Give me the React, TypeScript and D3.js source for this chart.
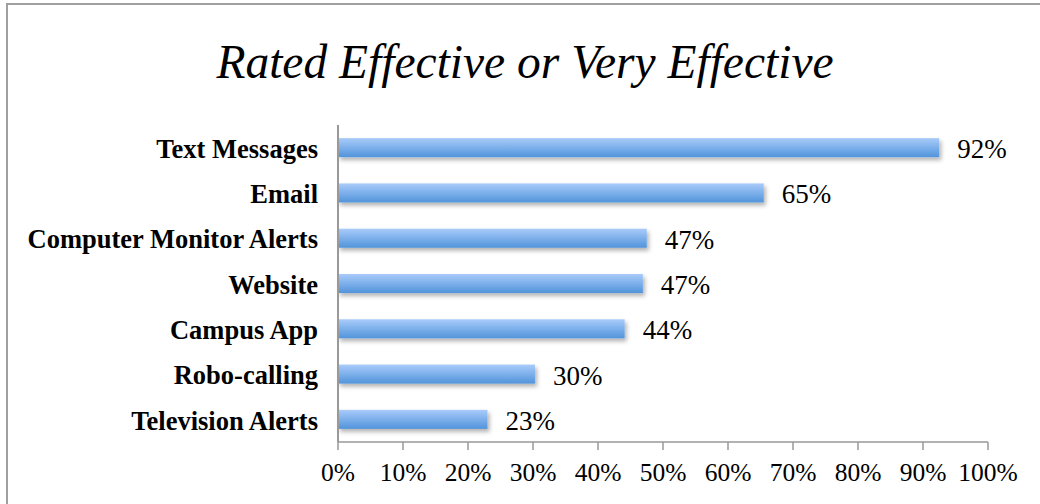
import React from "react";
import * as d3 from "d3";

const categories = [
  "Text Messages",
  "Email",
  "Computer Monitor Alerts",
  "Website",
  "Campus App",
  "Robo-calling",
  "Television Alerts",
];
const values = [92.5, 65.5, 47.5, 46.9, 44.1, 30.3, 23.0];
const valueLabels = ["92%", "65%", "47%", "47%", "44%", "30%", "23%"];
const xTicks = [0, 10, 20, 30, 40, 50, 60, 70, 80, 90, 100];
const title = "Rated Effective or Very Effective";

export default function App() {
  const W = 1040;
  const H = 504;
  const x = d3.scaleLinear().domain([0, 100]).range([338, 988]);
  const y = d3.scaleBand<string>().domain(categories).range([125, 442]).paddingInner(0.58).paddingOuter(0.29);
  const serif = "Liberation Serif";
  const axisY = 442;
  return (
    <svg width={W} height={H} style={{ position: "absolute", left: 0, top: 0, fontFamily: serif }}>
      <defs>
        <linearGradient id="barGrad" x1="0" y1="0" x2="0" y2="1">
          <stop offset="0" stopColor="#a9cbfa" />
          <stop offset="1" stopColor="#5194db" />
        </linearGradient>
        <filter id="shadow" x="-5%" y="-50%" width="110%" height="250%">
          <feDropShadow dx="2" dy="3" stdDeviation="2.2" floodColor="#000" floodOpacity="0.3" />
        </filter>
      </defs>
      <rect x={0} y={0} width={W} height={H} fill="#fff" />
      <rect x={7} y={4} width={W + 10} height={H + 10} fill="none" stroke="#a0a0a0" strokeWidth={2} />
      <text x={525} y={78} textAnchor="middle" fontSize={47.5} fontStyle="italic" style={{ fontFamily: serif }}>
        {title}
      </text>
      {categories.map((c, i) => (
        <g key={c}>
          <rect
            x={x(0)}
            y={y(c)!}
            width={x(values[i]) - x(0)}
            height={y.bandwidth()}
            fill="url(#barGrad)"
            filter="url(#shadow)"
          />
          <text
            x={318}
            y={y(c)! + y.bandwidth() / 2 + 1}
            dy="0.35em"
            textAnchor="end"
            fontSize={26.5}
            fontWeight="bold"
            style={{ fontFamily: serif }}
          >
            {c}
          </text>
          <text
            x={x(values[i]) + 18}
            y={y(c)! + y.bandwidth() / 2 + 1}
            dy="0.35em"
            fontSize={27}
            style={{ fontFamily: serif }}
          >
            {valueLabels[i]}
          </text>
        </g>
      ))}
      <line x1={x(0)} x2={x(0)} y1={125} y2={axisY} stroke="#999" strokeWidth={2} />
      <line x1={x(0)} x2={x(100)} y1={axisY} y2={axisY} stroke="#999" strokeWidth={1.5} />
      {xTicks.map((t) => (
        <g key={t}>
          <line x1={x(t)} x2={x(t)} y1={axisY} y2={axisY + 8} stroke="#999" strokeWidth={1.5} />
          <text x={x(t)} y={481} textAnchor="middle" fontSize={25.5} style={{ fontFamily: serif }}>
            {t}%
          </text>
        </g>
      ))}
    </svg>
  );
}
